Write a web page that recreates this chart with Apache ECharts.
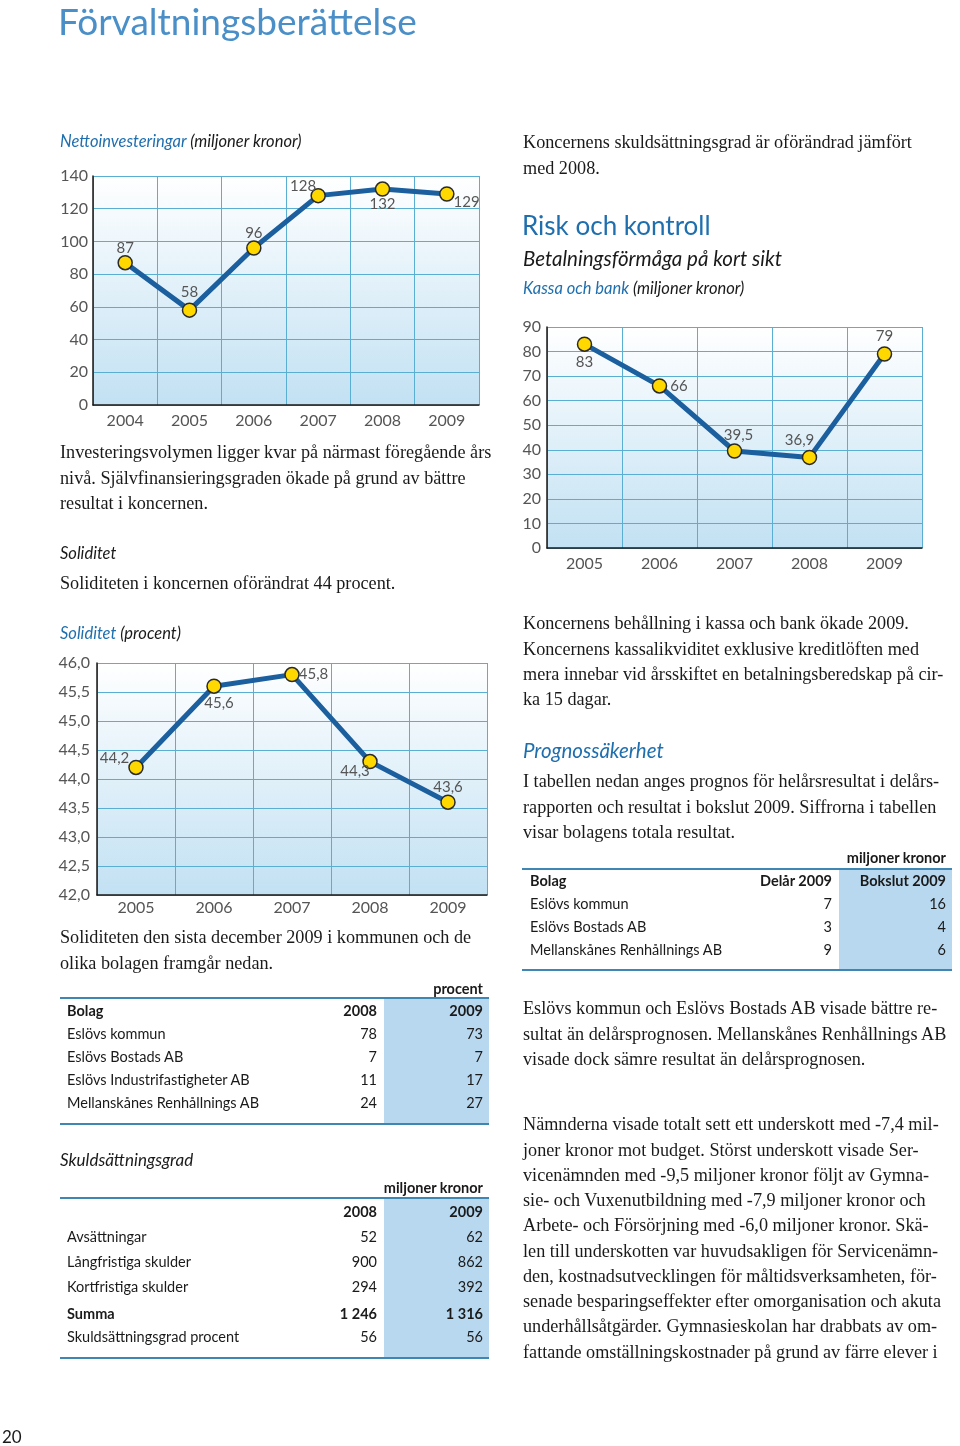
<!DOCTYPE html>
<html><head><meta charset="utf-8">
<script src="https://cdn.jsdelivr.net/npm/echarts@6/dist/echarts.min.js"></script>
<style>
html,body{margin:0;padding:0;background:#fff;}
#page{position:relative;width:960px;height:1446px;overflow:hidden;background:#fff;}
#chart{position:absolute;left:0;top:0;width:960px;height:1446px;}
.t{position:absolute;white-space:nowrap;color:#1a1a1a;}
.serif{font-family:'Liberation Serif','Times New Roman',serif;font-size:18.2px;line-height:25.3px;}
.sans{font-family:Lato,'Open Sans',sans-serif;}
.it{font-style:italic;}
.blue{color:#1f6fae;}
.b{font-weight:bold;}
.line{position:absolute;height:2px;background:#3f86b2;}
.shade{position:absolute;background:#b8d8ef;}
.cell{position:absolute;white-space:nowrap;font-family:Lato,'Open Sans',sans-serif;font-size:14.5px;line-height:20px;height:20px;color:#1a1a1a;}
</style></head>
<body><div id="page"><div id="chart"></div><div id="overlay"></div></div>
<script>
// ---------------- data ----------------
const netYears = ['2004','2005','2006','2007','2008','2009'];
const netValues = [87, 58, 96, 128, 132, 129];
const netTicks = {min: 0, max: 140, interval: 20};

const cashYears = ['2005','2006','2007','2008','2009'];
const cashValues = [83, 66, 39.5, 36.9, 79];
const cashTicks = {min: 0, max: 90, interval: 10};

const solYears = ['2005','2006','2007','2008','2009'];
const solValues = [44.2, 45.6, 45.8, 44.3, 43.6];
const solTicks = {min: 42, max: 46, interval: 0.5};

const solTableHead = ['Bolag', '2008', '2009'];
const solTableCompanies = ['Eslövs kommun', 'Eslövs Bostads AB', 'Eslövs Industrifastigheter AB', 'Mellanskånes Renhållnings AB'];
const solTable2008 = ['78', '7', '11', '24'];
const solTable2009 = ['73', '7', '17', '27'];

const debtHead = ['', '2008', '2009'];
const debtItems = ['Avsättningar', 'Långfristiga skulder', 'Kortfristiga skulder', 'Summa', 'Skuldsättningsgrad procent'];
const debt2008 = ['52', '900', '294', '1 246', '56'];
const debt2009 = ['62', '862', '392', '1 316', '56'];

const progHead = ['Bolag', 'Delår 2009', 'Bokslut 2009'];
const progCompanies = ['Eslövs kommun', 'Eslövs Bostads AB', 'Mellanskånes Renhållnings AB'];
const progInterim = ['7', '3', '9'];
const progFinal = ['16', '4', '6'];

// ---------------- fonts ----------------
const FF = 'Lato';
const FS = 16;

// ---------------- chart ----------------
const gridColor = '#5aaed2';
const axisColor = '#1a1a1a';
const labelColor = '#555555';
function bg(){ return new echarts.graphic.LinearGradient(0,0,0,1,[{offset:0,color:'#ffffff'},{offset:1,color:'#c2e1f3'}]); }
const comma = v => String(v).replace('.', ',');
const comma1 = v => Number(v).toFixed(1).replace('.', ',');

function mkGrid(l,t,w,h){ return {left:l, top:t, width:w, height:h, show:true, backgroundColor:bg(), borderWidth:0}; }
function mkX(idx, cats, margin){
  return {type:'category', gridIndex:idx, data:cats, boundaryGap:true,
    axisLine:{show:true, onZero:false, lineStyle:{color:axisColor, width:1.5}}, axisTick:{show:false},
    axisLabel:{color:labelColor, fontSize:FS, fontFamily:FF, margin:margin, interval:0},
    splitLine:{show:true, interval:0, lineStyle:{color:gridColor, width:1}}};
}
function mkY(idx, ticks, margin, fmt){
  return {type:'value', gridIndex:idx, min:ticks.min, max:ticks.max, interval:ticks.interval,
    axisLine:{show:true, lineStyle:{color:axisColor, width:1.5}}, axisTick:{show:false},
    axisLabel:{color:labelColor, fontSize:FS, fontFamily:FF, margin:margin, formatter:fmt},
    splitLine:{show:true, lineStyle:{color:gridColor, width:1}}};
}
function mkSeries(idx, values, labelCfg, fmt){
  return {type:'line', xAxisIndex:idx, yAxisIndex:idx,
    data: values.map((v,i)=>({value:v, label:labelCfg[i]})),
    symbol:'circle', symbolSize:14, z:3,
    lineStyle:{color:'#1b5f9e', width:5},
    itemStyle:{color:'#ffd800', borderColor:'#2a2a2a', borderWidth:1.5},
    label:{show:true, color:labelColor, fontSize:FS-1, fontFamily:FF, distance:3, formatter:p=>fmt(p.value)}};
}
const netLabels = [
  {position:'top', offset:[0,4]}, {position:'top', offset:[0,0]}, {position:'top', offset:[0,3]},
  {position:'top', offset:[-15,9]}, {position:'bottom', offset:[0,-3]}, {position:'right', offset:[-4,8]}
];
const cashLabels = [
  {position:'bottom'}, {position:'right'}, {position:'top', offset:[4,2]},
  {position:'top', offset:[-10,1]}, {position:'top'}
];
const solLabels = [
  {position:'left', offset:[4,-9]}, {position:'bottom', offset:[5,-1]}, {position:'right', offset:[-4,0]},
  {position:'bottom', offset:[-15,-9]}, {position:'top', offset:[0,3]}
];

const chart = echarts.init(document.getElementById('chart'));
chart.setOption({
  animation:false,
  grid:[ mkGrid(93,176,386,229), mkGrid(547,327,375,221), mkGrid(97,663,390,232) ],
  xAxis:[ mkX(0, netYears, 8), mkX(1, cashYears, 8), mkX(2, solYears, 5) ],
  yAxis:[ mkY(0, netTicks, 5, v=>String(v)), mkY(1, cashTicks, 6, v=>String(v)), mkY(2, solTicks, 7, comma1) ],
  series:[ mkSeries(0, netValues, netLabels, comma), mkSeries(1, cashValues, cashLabels, comma), mkSeries(2, solValues, solLabels, comma) ]
});

// ---------------- text ----------------
const ov = document.getElementById('overlay');
function put(html, x, cy, cls, size, lh, color){
  const d=document.createElement('div');
  d.className='t '+cls;
  if(size) d.style.fontSize=size+'px';
  const L = lh || 25.3;
  d.style.lineHeight=L+'px';
  d.style.left=x+'px';
  d.style.top=(cy - L/2)+'px';
  if(color) d.style.color=color;
  d.innerHTML=html;
  ov.appendChild(d);
}
// left column
put('Förvaltningsberättelse', 58, 21, 'sans', 37, 44, '#4a8fc8');
put('<span class="blue">Nettoinvesteringar</span> (miljoner kronor)', 60, 141, 'sans it', 16.5, 20);
put('Investeringsvolymen ligger kvar på närmast föregående års<br>nivå. Självfinansieringsgraden ökade på grund av bättre<br>resultat i koncernen.', 60, 453, 'serif');
put('Soliditet', 60, 553, 'sans it', 16.5, 20);
put('Soliditeten i koncernen oförändrat 44 procent.', 60, 584, 'serif');
put('<span class="blue">Soliditet</span> (procent)', 60, 633, 'sans it', 16.5, 20);
put('Soliditeten den sista december 2009 i kommunen och de<br>olika bolagen framgår nedan.', 60, 938, 'serif');
put('Skuldsättningsgrad', 60, 1160, 'sans it', 17, 20);
put('20', 2, 1437, 'sans', 17, 20);
// right column
put('Koncernens skuldsättningsgrad är oförändrad jämfört<br>med 2008.', 523, 143, 'serif');
put('Risk och kontroll', 522, 225, 'sans blue', 26, 32);
put('Betalningsförmåga på kort sikt', 523, 258, 'sans it', 20.5, 24);
put('<span class="blue">Kassa och bank</span> (miljoner kronor)', 523, 288, 'sans it', 16.5, 20);
put('Koncernens behållning i kassa och bank ökade 2009.<br>Koncernens kassalikviditet exklusive kreditlöften med<br>mera innebar vid årsskiftet en betalningsberedskap på cir-<br>ka 15 dagar.', 523, 624, 'serif');
put('Prognossäkerhet', 523, 750, 'sans it blue', 20.5, 24);
put('I tabellen nedan anges prognos för helårsresultat i delårs-<br>rapporten och resultat i bokslut 2009. Siffrorna i tabellen<br>visar bolagens totala resultat.', 523, 782, 'serif');
put('Eslövs kommun och Eslövs Bostads AB visade bättre re-<br>sultat än delårsprognosen. Mellanskånes Renhållnings AB<br>visade dock sämre resultat än delårsprognosen.', 523, 1009, 'serif');
put('Nämnderna visade totalt sett ett underskott med -7,4 mil-<br>joner kronor mot budget. Störst underskott visade Ser-<br>vicenämnden med -9,5 miljoner kronor följt av Gymna-<br>sie- och Vuxenutbildning med -7,9 miljoner kronor och<br>Arbete- och Försörjning med -6,0 miljoner kronor. Skä-<br>len till underskotten var huvudsakligen för Servicenämn-<br>den, kostnadsutvecklingen för måltidsverksamheten, för-<br>senade besparingseffekter efter omorganisation och akuta<br>underhållsåtgärder. Gymnasieskolan har drabbats av om-<br>fattande omställningskostnader på grund av färre elever i', 523, 1125, 'serif', 18.2, 25.25);

// ---------------- tables ----------------
function cell(text, x, cy, align, bold){
  const d=document.createElement('div');
  d.className='cell'+(bold?' b':'');
  d.style.top=(cy-10)+'px';
  if(align==='right'){ d.style.right=(960-x)+'px'; } else { d.style.left=x+'px'; }
  d.textContent=text;
  ov.appendChild(d);
}
function box(cls, x, y, w, h){
  const d=document.createElement('div'); d.className=cls;
  d.style.left=x+'px'; d.style.top=y+'px'; d.style.width=w+'px';
  if(h) d.style.height=h+'px';
  ov.appendChild(d);
}
function table(L){
  box('shade', L.shadeX, L.top+1, L.x1-L.shadeX, L.bottom-L.top-1);
  box('line', L.x0, L.top-1, L.x1-L.x0);
  box('line', L.x0, L.bottom-1, L.x1-L.x0);
  cell(L.unit, L.c2, L.unitY, 'right', true);
  L.rows.forEach((r,i)=>{
    const cy=L.rowY[i];
    if(r[0]) cell(r[0], L.labelX, cy, 'left', r.bold);
    cell(r[1], L.c1, cy, 'right', r.bold);
    cell(r[2], L.c2, cy, 'right', r.bold);
  });
}
function rowsOf(head, names, a, b, boldIdx){
  const h=[...head]; h.bold=true;
  const out=[h];
  names.forEach((n,i)=>{ const r=[n,a[i],b[i]]; r.bold=(boldIdx===i); out.push(r); });
  return out;
}
table({x0:60, x1:489, shadeX:384, top:998, bottom:1124, labelX:67, c1:377, c2:483, unit:'procent', unitY:989,
  rows:rowsOf(solTableHead, solTableCompanies, solTable2008, solTable2009, -1),
  rowY:[1011,1034,1057,1080,1103]});
table({x0:60, x1:489, shadeX:384, top:1198, bottom:1358, labelX:67, c1:377, c2:483, unit:'miljoner kronor', unitY:1188,
  rows:rowsOf(debtHead, debtItems, debt2008, debt2009, 3),
  rowY:[1212,1237,1262,1287,1314,1337]});
table({x0:522, x1:952, shadeX:839, top:869, bottom:970, labelX:530, c1:832, c2:946, unit:'miljoner kronor', unitY:858,
  rows:rowsOf(progHead, progCompanies, progInterim, progFinal, -1),
  rowY:[881,904,927,950]});
</script>
</body></html>
